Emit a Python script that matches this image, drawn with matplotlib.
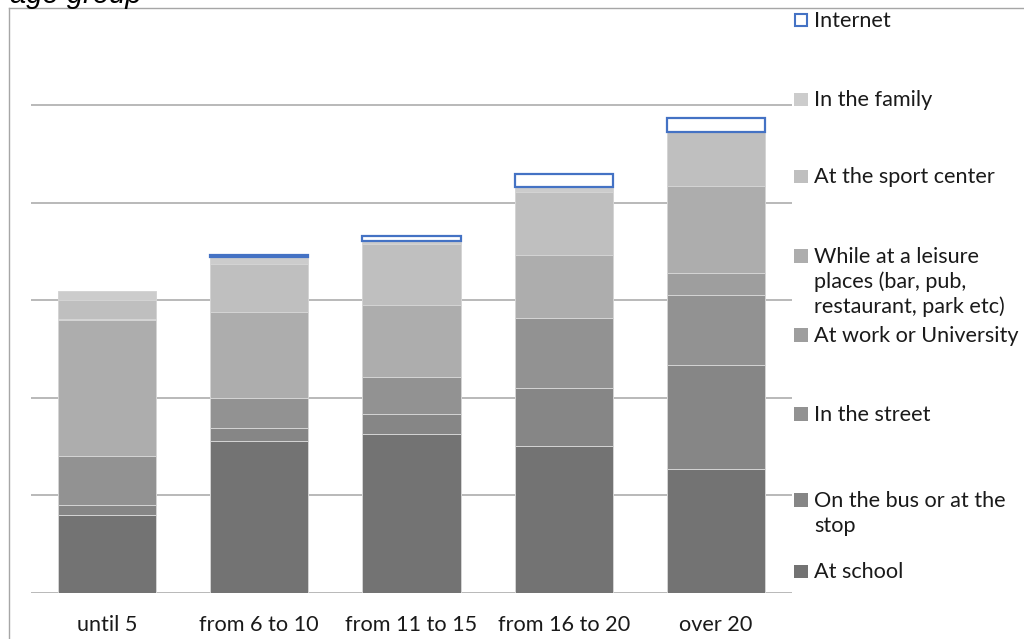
import matplotlib
matplotlib.use("Agg")
import matplotlib.pyplot as plt
from matplotlib.patches import Rectangle
from matplotlib.lines import Line2D
import numpy as np

categories = ["until 5", "from 6 to 10", "from 11 to 15", "from 16 to 20", "over 20"]
series_names = ["At school", "On the bus or at the\nstop", "In the street", "At work or University",
                "While at a leisure\nplaces (bar, pub,\nrestaurant, park etc)", "At the sport center",
                "In the family", "Internet"]
at_school = [8.0, 15.5, 16.3, 15.0, 12.7]
on_bus = [1.0, 1.4, 2.0, 6.0, 10.6]
in_street = [5.0, 3.0, 3.8, 7.2, 7.2]
at_work = [0.0, 0.0, 0.0, 0.0, 2.3]
leisure = [14.0, 8.9, 7.4, 6.4, 8.9]
sport_center = [2.0, 4.9, 6.2, 6.5, 5.5]
in_family = [0.9, 0.7, 0.4, 0.5, 0.0]
internet = [0.0, 0.25, 0.5, 1.35, 1.5]
title_text = "age group"

series = [at_school, on_bus, in_street, at_work, leisure, sport_center, in_family, internet]
colors = ["#737373", "#868686", "#929292", "#9e9e9e", "#adadad", "#bfbfbf", "#cccccc", "white"]
BLUE = "#4472C4"

W, H = 1024, 639
fig = plt.figure(figsize=(W / 100, H / 100), dpi=100)
FONT = "Lato"
FS = 15.6
LINE_PX = 25.0

def fx(px):
    return px / W

def fy(py):
    return 1 - py / H

# chart frame
fig.add_artist(Line2D([fx(9), fx(9)], [fy(8), 0], color="#a6a6a6", lw=1.0, transform=fig.transFigure))
fig.add_artist(Line2D([fx(9), 1], [fy(8), fy(8)], color="#a6a6a6", lw=1.0, transform=fig.transFigure))

ax = fig.add_axes([fx(31), fy(592.5), fx(792) - fx(31), (592.5 - 7.5) / H])
ax.set_xlim(-0.5, len(categories) - 0.5)
ax.set_ylim(0, 60)
for s in ax.spines.values():
    s.set_visible(False)
ax.set_yticks([0, 10, 20, 30, 40, 50])
ax.set_yticklabels([])
ax.yaxis.grid(True, color="#a6a6a6", lw=1.1)
ax.set_axisbelow(True)
ax.tick_params(axis="y", length=0)
x = np.arange(len(categories))
ax.set_xticks(x)
ax.set_xticklabels(categories, fontfamily=FONT, fontsize=FS, color="#1a1a1a")
ax.tick_params(axis="x", length=0, pad=16)

bottom = np.zeros(len(categories))
width = 0.645
for i, (vals, c) in enumerate(zip(series, colors)):
    vals = np.array(vals)
    if i == len(series) - 1:
        ecs = [BLUE if v > 0 else "none" for v in vals]
        ax.bar(x, vals, width, bottom=bottom, color=c, edgecolor=ecs, linewidth=1.6, zorder=3)
    else:
        ax.bar(x, vals, width, bottom=bottom, color=c, edgecolor="#d4d4d4", linewidth=0.7, zorder=2)
    bottom += vals

# legend (manual, Excel-like); baselines of each entry's first line in pixels
leg_baselines = [578.3, 506.7, 420.7, 341.7, 262.7, 183.3, 106.0, 26.7]
for i, (name, c, base) in enumerate(zip(series_names, colors, leg_baselines)):
    if i == len(series_names) - 1:
        fig.add_artist(Rectangle((fx(794.5), fy(base - 0.5)), fx(12.5), 12.5 / H,
                                 facecolor="white", edgecolor=BLUE, lw=1.5, transform=fig.transFigure))
    else:
        fig.add_artist(Rectangle((fx(794), fy(base)), fx(13.5), 13.5 / H,
                                 facecolor=c, edgecolor="none", transform=fig.transFigure))
    for j, line in enumerate(name.split("\n")):
        fig.text(fx(814), fy(base + j * LINE_PX), line, fontfamily=FONT, fontsize=FS,
                 color="#1a1a1a", va="baseline", ha="left")

fig.text(fx(10), fy(3), title_text, fontfamily="Liberation Sans", fontstyle="italic",
         fontsize=21, va="baseline", ha="left", color="black")

fig.savefig("out.png", dpi=100)
